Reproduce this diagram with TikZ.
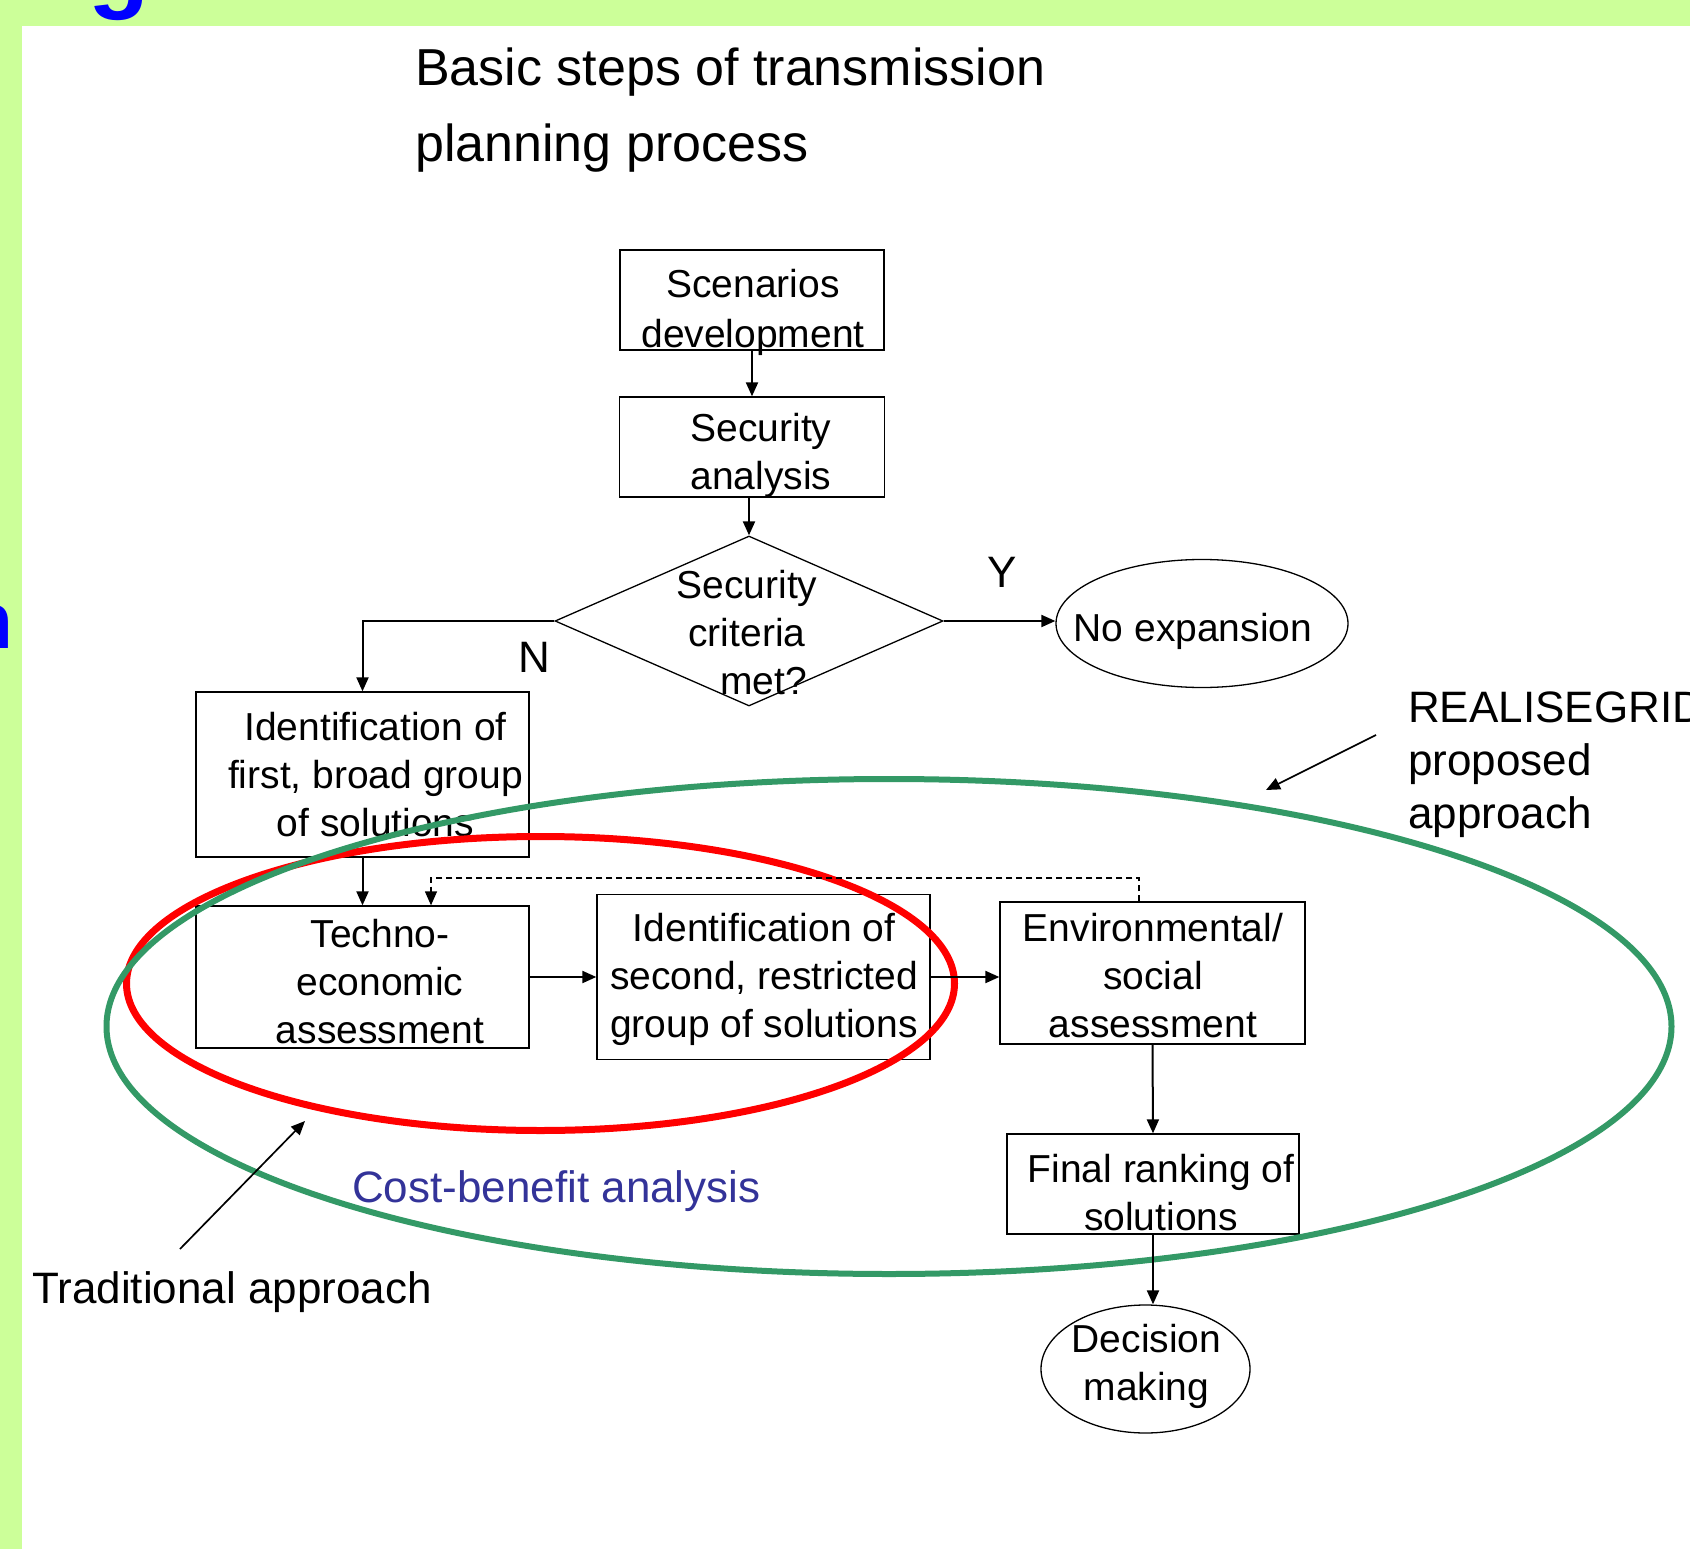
\documentclass[tikz,border=0pt]{standalone}
\usepackage{fontspec}
\setmainfont{Liberation Sans}
\usetikzlibrary{shapes.geometric,arrows.meta}
\definecolor{bggreen}{HTML}{CCFF99}
\definecolor{ovalgreen}{HTML}{339966}
\definecolor{cbblue}{HTML}{333399}
\begin{document}
\begin{tikzpicture}[x=1pt,y=-1pt,
  box/.style={draw, line width=1.3pt, inner sep=0pt},
  boxtext/.style={font=\fontsize{39}{48}\selectfont, align=center, inner sep=0pt},
  annot/.style={font=\fontsize{44}{53}\selectfont, inner sep=0pt},
  conn/.style={line width=2pt, -{Triangle[length=14pt,width=12pt]}},
  dconn/.style={line width=1.3pt, dash pattern=on 6pt off 4pt, -{Triangle[length=14pt,width=12pt]}},
  oval/.style={line width=6pt},
]
\useasboundingbox (0,0) rectangle (1690,1549);
\clip (0,0) rectangle (1690,1549);
\fill[bggreen] (0,0) rectangle (1690,1549);
% fragments of the slide title behind
\node[font=\fontsize{100}{100}\selectfont\bfseries, text=blue, anchor=base west, inner sep=0pt] (frag1) at (88,0) {g};
\node[font=\fontsize{80}{80}\selectfont\bfseries, text=blue, anchor=base west, inner sep=0pt] (frag2) at (-36,648) {n};
\fill[white] (22,26) rectangle (1690,1549);

% title
\node[font=\fontsize{52}{76}\selectfont, align=left, anchor=base west, inner sep=0pt] (title) at (415,162) {Basic steps of transmission\\planning process};

% flow nodes
\node[box, minimum width=264pt, minimum height=100pt,
  label={[boxtext, font=\fontsize{39}{50}\selectfont, xshift=1pt, yshift=-12.5pt]center:Scenarios\\development}] (scen) at (752,300) {};
\node[box, minimum width=265pt, minimum height=100pt,
  label={[boxtext, xshift=9pt, yshift=-8pt]center:Security\\analysis}] (secA) at (752,447) {};
\node[box, diamond, minimum width=388pt, minimum height=170pt,
  label={[boxtext, xshift=-2pt, yshift=-12pt]center:Security\\criteria\\\hspace*{33pt}met?}] (dia) at (749,621) {};
\node[box, ellipse, minimum width=292pt, minimum height=128pt,
  label={[boxtext, xshift=-9pt, yshift=-8pt]center:No expansion}] (noexp) at (1202,623.5) {};
\node[box, minimum width=333pt, minimum height=165pt,
  label={[boxtext, xshift=13pt, yshift=0pt]center:Identification of\\first, broad group\\of solutions}] (id1) at (362.5,774.5) {};
\node[box, minimum width=333pt, minimum height=142pt,
  label={[boxtext, xshift=17.5pt, yshift=-4.5pt]center:Techno-\\economic\\assessment}] (techno) at (362.5,977) {};
\node[box, minimum width=333pt, minimum height=165pt,
  label={[boxtext, xshift=0.5pt, yshift=-2.5pt]center:Identification of\\second, restricted\\group of solutions}] (second) at (763.5,977) {};
\node[box, minimum width=305pt, minimum height=142pt,
  label={[boxtext, xshift=0.5pt, yshift=-3pt]center:Environmental/\\social\\assessment}] (env) at (1152.5,973) {};
\node[box, minimum width=292pt, minimum height=100pt,
  label={[boxtext, xshift=8pt, yshift=-8.5pt]center:Final ranking of\\solutions}] (final) at (1153,1184) {};
\node[box, ellipse, minimum width=209pt, minimum height=128pt,
  label={[boxtext, xshift=1pt, yshift=2.5pt]center:Decision\\making}] (dec) at (1145.5,1369) {};

% labels
\node[annot] (ylab) at (1002,572) {Y};
\node[annot] (nlab) at (534,657) {N};
\node[annot, text=cbblue, anchor=base west] (cba) at (352,1202) {Cost-benefit analysis};
\node[annot, anchor=base west] (trad) at (32,1303) {Traditional approach};
\node[annot, align=left, anchor=base west] (rg) at (1408,828) {REALISEGRID\\proposed\\approach};

% ovals
\draw[oval, red, line width=7pt] (540.5,983.5) ellipse [x radius=414pt, y radius=147pt];
\draw[oval, ovalgreen] (889,1026.5) ellipse [x radius=782.5pt, y radius=247.5pt];

% connectors
\coordinate (dtop) at (431,878);
\coordinate (rgA) at (1376,735);
\coordinate (rgB) at (1266,790);
\coordinate (trA) at (180,1249);
\coordinate (trB) at (305,1121);
\draw[conn] (scen.south) -- (secA.north);
\draw[conn] (secA.south -| dia.north) -- (dia.north);
\draw[conn] (dia.east) -- (dia.east -| noexp.west);
\draw[conn] (dia.west) -| (id1.north);
\draw[conn] (id1.south) -- (techno.north);
\draw[conn] (techno.east) -- (second.west);
\draw[conn] (second.east) -- (second.east -| env.west);
\draw[dconn] ([xshift=-13.5pt]env.north) |- (dtop) -- (techno.north -| dtop);
\draw[conn] (env.south) -- (final.north);
\draw[conn] (final.south) -- (final.south |- dec.north);
\draw[conn, line width=1.7pt] (rgA) -- (rgB);
\draw[conn, line width=1.7pt] (trA) -- (trB);
\end{tikzpicture}
\end{document}
